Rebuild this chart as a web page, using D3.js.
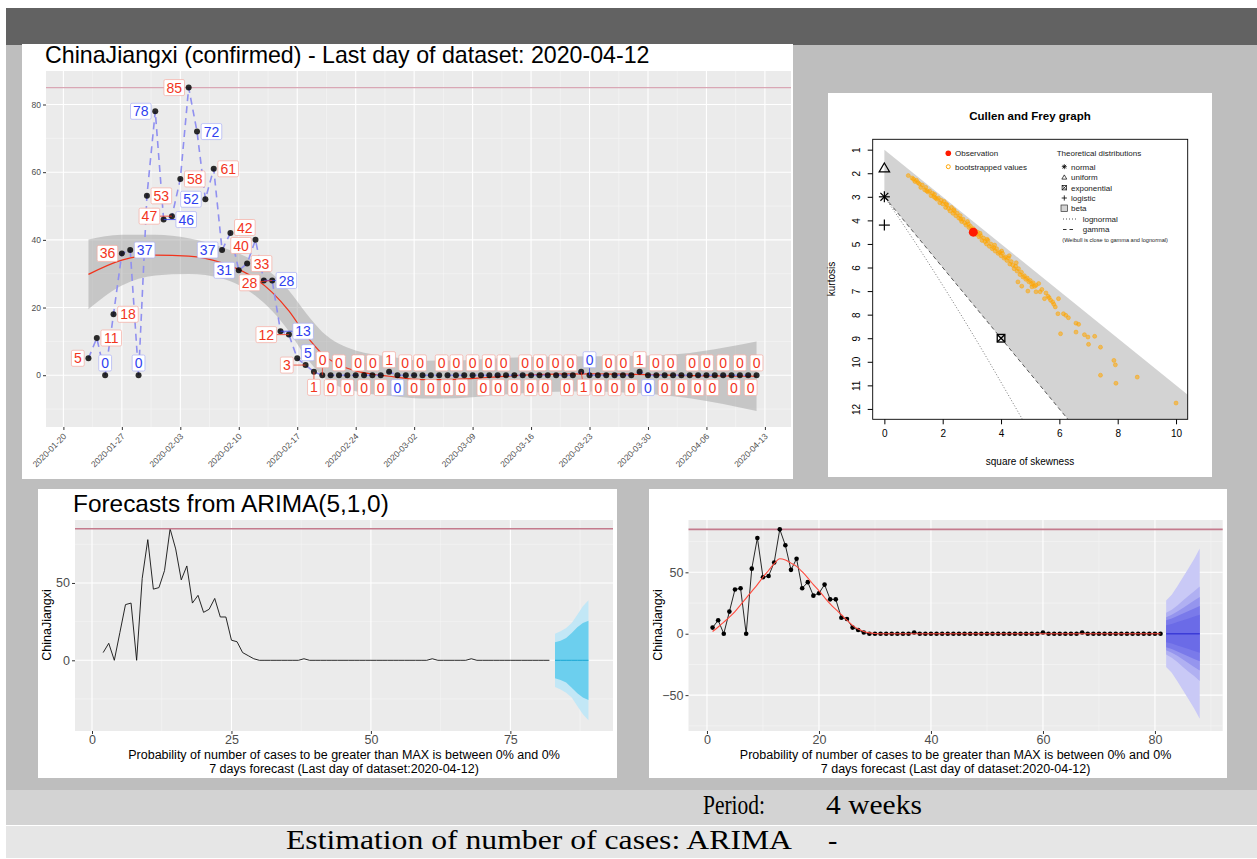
<!DOCTYPE html>
<html>
<head>
<meta charset="utf-8">
<script src="https://cdn.jsdelivr.net/npm/d3@7"></script>
<style>
body { margin: 0; background: #fff; }
svg text { font-family: "Liberation Sans", Arial, sans-serif; }
</style>
</head>
<body>
<svg id="page" width="1257" height="859"></svg>
<script>
// ---- data ----
var regionName = "ChinaJiangxi";
var firstDay = "2020-01-23",
    lastDay = "2020-04-12";

// daily new confirmed cases, 2020-01-23 .. 2020-04-12
var dailyCases = [5,11,0,18,36,37,0,53,78,46,47,58,85,72,52,61,37,42,31,33,40,28,28,13,12,5,3,1,
    0,0,0,0,0,0,0,0,1,
    0,0,0,0,0,0,0,0,0,0,0,0,0,0,0,0,0,0,0,0,0,0,1,
    0,0,0,0,0,0,1,
    0,0,0,0,0,0,0,0,0,0,0,0,0,0];

// labels drawn in blue (1-based day number), the rest are red
var blueLabelDays = [3,6,7,9,10,14,15,17,19,22,24,26,38,61,68];

// loess smooth on the top chart (days after first day)
var smoothDays = [0,4,8,12,16,20,22,24,26,28,30,32,36,40,44,48,52,56,60,64,68,72,76,80];
var smoothFit  = [29.8,34,35.5,35.2,33.2,28.5,24.5,19,12,6.3,3,1.3,-0.3,-1.3,-1.2,-0.6,0,0.3,0.4,0.3,0.1,-0.1,-0.2,-0.3];
var smoothHi   = [40.1,41.5,41.5,40.5,37.8,33.5,30,25,18.5,12.8,9.3,7.3,5.5,4.3,4.4,4.9,5.3,5.5,5.6,5.7,5.9,6.6,8.1,10];
var smoothLo   = [19.5,26.5,29.5,29.9,28.6,23.5,19,13,5.5,-0.2,-3.3,-4.7,-6.1,-6.9,-6.8,-6.1,-5.3,-4.9,-4.8,-5.1,-5.7,-6.8,-8.5,-10.6];

// Cullen and Frey graph
var obsSkew2 = 3.05, obsKurt = 4.5;
var bootSkew2 = [0.82,0.95,1.0,1.05,1.1,1.15,1.2,1.25,1.3,1.38,1.42,1.45,1.5,1.55,1.6,1.65,1.7,1.72,1.75,1.8,1.85,1.9,1.95,2.0,2.05,2.1,2.12,2.15,2.2,2.25,2.3,2.35,2.38,2.4,2.45,2.5,2.55,2.6,2.62,2.65,2.7,2.75,2.8,2.85,2.88,2.9,2.95,3.0,3.05,3.1,3.15,3.2,3.25,3.28,3.3,3.35,3.4,3.45,3.5,3.52,3.55,3.6,3.65,3.7,3.75,3.78,3.8,3.85,3.9,3.95,4.0,4.02,4.05,4.1,4.15,4.2,4.25,4.28,4.3,4.35,4.4,4.45,4.5,4.52,4.55,4.6,4.65,4.7,4.75,4.8,4.85,4.9,4.95,5.0,5.05,5.1,5.15,5.2,
    4.58,4.71,4.92,5.06,5.2,5.29,5.34,5.4,5.49,5.54,5.61,5.65,5.7,5.77,5.81,5.86,5.95,5.97,6.14,6.22,6.31,6.57,6.66,6.57,6.04,6.86,6.98,7.0,7.21,7.41,7.87,7.92,7.41,7.94,8.67,10.0];
var bootKurt = [2.1,2.2,2.25,2.35,2.3,2.4,2.45,2.6,2.5,2.7,2.6,2.75,2.8,2.75,2.95,2.85,3.0,2.9,3.05,3.1,3.05,3.25,3.15,3.3,3.2,3.45,3.3,3.35,3.5,3.6,3.45,3.7,3.55,3.6,3.8,3.7,3.9,3.8,3.95,4.05,3.95,4.1,4.2,4.05,4.15,4.3,4.25,4.4,4.35,4.45,4.6,4.5,4.7,4.55,4.65,4.85,4.75,4.9,5.0,4.8,4.85,5.1,5.0,5.2,5.15,5.05,5.3,5.2,5.4,5.35,5.5,5.3,5.4,5.6,5.55,5.7,5.6,5.5,5.85,5.75,5.9,6.05,5.95,5.8,6.15,6.05,6.3,6.2,6.4,6.35,6.5,6.45,6.6,6.55,6.7,6.65,6.8,6.75,
    6.61,6.79,7.0,6.82,7.03,6.68,7.03,6.93,7.32,7.08,7.22,7.28,7.39,7.46,7.56,7.67,7.96,7.32,7.96,8.03,8.13,8.36,8.41,8.74,8.81,8.85,8.95,9.26,8.92,9.38,9.94,10.13,10.57,10.91,10.65,11.75];
var betaSkew2 = [0, 12, 12, 0],
    betaKurt  = [1, 13, 21, 3];
var lognormSkew2 = [0, 0.961, 2.048, 3.267, 4.624, 6.2],
    lognormKurt  = [3, 4.756, 6.85, 9.32, 12.21, 15.6];
var gammaSkew2 = [0, 8],
    gammaKurt  = [3, 15];
var uniformPt = [0, 1.8], normalPt = [0, 3], logisticPt = [0, 4.2], exponentialPt = [4, 9];

// ARIMA(5,1,0) forecast, 7 steps
var arimaMean = [0,0,0,0,0,0,0];
var arima80 = [11.6,12.7,14.4,17.7,21.3,24.1,25.6];
var arima95 = [17.2,18.8,20.9,24.1,29.5,34.9,38.8];

// fitted curve on the bottom right chart (one value per day)
var curveFit = [1.8,5.5,9.5,13.5,18,23.5,29,34.5,40,46,51.5,57,61,60,57.5,54.8,50.5,45.5,40,35,29.5,24.3,19.8,15.5,11,6.8,3.8,1.8,0.7,0.2,0,
    0,0,0,0,0,0,0,0,0,0,0,0,0,0,0,0,0,0,0,0,0,0,0,0,0,0,0,0,0,0,0,0,0,0,0,0,0,0,0,0,0,0,0,0,0,0,0,0,0,0];
// fan of the bottom right forecast (half widths, outer to inner)
var fanMean = [0,0,0,0,0,0,0];
var fanLevels = [
    [27,31.7,38.6,46,53.4,60.9,69.3],
    [17,19.5,23,27,31,34.5,38.5],
    [13.5,15.5,18,21,24,27,30],
    [11,12.5,14.5,16.5,18.5,20.5,22.5],
    [7,8,9.5,11,12.5,14,15.5]
];
var fanColors = ["#c9c9f6","#b0b0f2","#9595ee","#7a7aea","#6b6be7"];

var periodText = "4 weeks", methodText = "ARIMA";

// ---- page ----
var svg = d3.select("#page");
var parseDay = d3.utcParse("%Y-%m-%d");
var maxCases = d3.max(dailyCases);

svg.append("rect").attr("x",6).attr("y",8).attr("width",1251).attr("height",37).attr("fill","#626262");
svg.append("rect").attr("x",6).attr("y",45).attr("width",1251).attr("height",745).attr("fill","#bebebe");
svg.append("rect").attr("x",6).attr("y",790).attr("width",1251).attr("height",35).attr("fill","#d3d3d3");
svg.append("rect").attr("x",6).attr("y",826).attr("width",1251).attr("height",32).attr("fill","#e6e6e6");

// white boxes of the four images
[[22,44,771,435],[828,93,384,384],[38,489,579,289],[649,489,578,289]].forEach(function(b){
    svg.append("rect").attr("x",b[0]).attr("y",b[1]).attr("width",b[2]).attr("height",b[3]).attr("fill","#fff");
});

function ggPanel(g, x, y, xMaj, xMin, yMaj, yMin){
    var x0 = x.range()[0], x1 = x.range()[1], y0 = y.range()[1], y1 = y.range()[0];
    g.append("rect").attr("x",x0).attr("y",y0).attr("width",x1-x0).attr("height",y1-y0).attr("fill","#ebebeb");
    g.selectAll(null).data(yMin).enter().append("line")
        .attr("x1",x0).attr("x2",x1).attr("y1",function(d){return y(d)}).attr("y2",function(d){return y(d)})
        .attr("stroke","#f6f6f6").attr("stroke-width",0.6);
    g.selectAll(null).data(xMin).enter().append("line")
        .attr("y1",y0).attr("y2",y1).attr("x1",function(d){return x(d)}).attr("x2",function(d){return x(d)})
        .attr("stroke","#f6f6f6").attr("stroke-width",0.6);
    g.selectAll(null).data(yMaj).enter().append("line")
        .attr("x1",x0).attr("x2",x1).attr("y1",function(d){return y(d)}).attr("y2",function(d){return y(d)})
        .attr("stroke","#fff").attr("stroke-width",1.1);
    g.selectAll(null).data(xMaj).enter().append("line")
        .attr("y1",y0).attr("y2",y1).attr("x1",function(d){return x(d)}).attr("x2",function(d){return x(d)})
        .attr("stroke","#fff").attr("stroke-width",1.1);
}

function styleAxis(g, fs){
    g.select(".domain").remove();
    g.selectAll(".tick line").attr("stroke","#333");
    g.selectAll(".tick text").attr("fill","#4d4d4d").attr("font-size",fs);
}

// ---- top left: daily cases with labels ----
var gm = svg.append("g");
var xm = d3.scaleUtc()
    .domain([d3.utcHour.offset(parseDay("2020-01-20"), -50), d3.utcHour.offset(parseDay("2020-04-13"), 75)])
    .range([46, 791]);
var ym = d3.scaleLinear().domain([-15.3, 89.9]).range([427, 71]);
var weekTicks = xm.ticks(d3.utcMonday.every(1));
var weekMinor = weekTicks.map(function(d){return d3.utcHour.offset(d, 84)})
    .filter(function(d){return d < xm.domain()[1]});
ggPanel(gm, xm, ym, weekTicks, weekMinor, [0,20,40,60,80], [-10,10,30,50,70]);

var days = dailyCases.map(function(v, i){ return d3.utcDay.offset(parseDay(firstDay), i); });

gm.append("line").attr("x1",46).attr("x2",791).attr("y1",ym(maxCases)).attr("y2",ym(maxCases))
    .attr("stroke","#d9a7b5").attr("stroke-width",1.4);

var smoothX = function(d, i){ return xm(d3.utcDay.offset(parseDay(firstDay), smoothDays[i])); };
gm.append("path")
    .attr("d", d3.area().x(smoothX).y0(function(d,i){return ym(smoothLo[i])}).y1(function(d,i){return ym(smoothHi[i])})
        .curve(d3.curveMonotoneX)(smoothDays))
    .attr("fill","#999").attr("fill-opacity",0.45);
gm.append("path")
    .attr("d", d3.line().x(smoothX).y(function(d,i){return ym(smoothFit[i])}).curve(d3.curveMonotoneX)(smoothDays))
    .attr("fill","none").attr("stroke","#f2331c").attr("stroke-width",1.2);

gm.append("path")
    .attr("d", d3.line().x(function(d,i){return xm(days[i])}).y(function(d){return ym(d)})(dailyCases))
    .attr("fill","none").attr("stroke","#9090f0").attr("stroke-width",1.6).attr("stroke-dasharray","7,5");

gm.selectAll(null).data(dailyCases).enter().append("circle")
    .attr("cx",function(d,i){return xm(days[i])}).attr("cy",function(d){return ym(d)})
    .attr("r",3).attr("fill","#000").attr("fill-opacity",0.82);

// simple label repel, deterministic: big values start beside their point, zeros above/below
var pts = dailyCases.map(function(v,i){ return {x: xm(days[i]), y: ym(v)}; });
var labs = dailyCases.map(function(v,i){
    var side = i % 2 === 0 ? -1 : 1;
    var w = String(v).length*7.8 + 5;
    var sideways = v > 1;
    return {v: v, blue: blueLabelDays.indexOf(i+1) >= 0, ax: pts[i].x, ay: pts[i].y, w: w, h: 16,
            x: pts[i].x + (sideways ? side*(w/2 + 7) : ((i*7) % 5 - 2) * 3),
            y: pts[i].y + (sideways ? -3 : side*15)};
});
(function repel(){
    var L = 46, R = 791, T = 71, B = 427;
    for (var it = 0; it < 500; it++){
        labs.forEach(function(a){ a.fx = 0; a.fy = 0; });
        for (var i = 0; i < labs.length; i++){
            var a = labs[i];
            for (var j = i+1; j < labs.length; j++){
                var b = labs[j];
                var ox = (a.w + b.w)/2 + 2 - Math.abs(a.x - b.x),
                    oy = (a.h + b.h)/2 + 2 - Math.abs(a.y - b.y);
                if (ox > 0 && oy > 0){
                    if (ox < oy){
                        var sx = a.x === b.x ? -1 : (a.x < b.x ? -1 : 1);
                        a.fx += sx*ox*0.5; b.fx -= sx*ox*0.5;
                    } else {
                        var sy = a.y === b.y ? (i % 2 ? 1 : -1) : (a.y < b.y ? -1 : 1);
                        a.fy += sy*oy*0.5; b.fy -= sy*oy*0.5;
                    }
                }
            }
            pts.forEach(function(p){
                var ox = a.w/2 + 4.5 - Math.abs(a.x - p.x),
                    oy = a.h/2 + 4.5 - Math.abs(a.y - p.y);
                if (ox > 0 && oy > 0){
                    if (ox < oy) a.fx += (a.x < p.x ? -1 : 1)*ox*0.6;
                    else a.fy += (a.y < p.y ? -1 : 1)*oy*0.6;
                }
            });
            a.fx += (a.ax - a.x)*0.015;
            a.fy += (a.ay - a.y)*0.015;
        }
        labs.forEach(function(a){
            a.x = Math.max(L + a.w/2, Math.min(R - a.w/2, a.x + a.fx));
            a.y = Math.max(T + a.h/2, Math.min(B - a.h/2, a.y + a.fy));
        });
    }
})();

labs.forEach(function(a){
    var col = a.blue ? "#2f3ff0" : "#f2351d";
    var dx = a.x - a.ax, dy = a.y - a.ay;
    var s = Math.min(dx ? (a.w/2)/Math.abs(dx) : Infinity, dy ? (a.h/2)/Math.abs(dy) : Infinity, 1);
    var ex = a.x - dx*s, ey = a.y - dy*s;
    if (Math.hypot(ex - a.ax, ey - a.ay) > 6){
        gm.append("line").attr("x1",a.ax).attr("y1",a.ay).attr("x2",ex).attr("y2",ey)
            .attr("stroke",col).attr("stroke-width",0.8);
    }
});
var lab = gm.selectAll("g.lab").data(labs).enter().append("g").attr("class","lab")
    .attr("transform",function(a){return "translate(" + a.x + "," + a.y + ")"});
lab.append("rect").attr("x",function(a){return -a.w/2}).attr("y",function(a){return -a.h/2})
    .attr("width",function(a){return a.w}).attr("height",function(a){return a.h}).attr("rx",1.5)
    .attr("fill","#fff").attr("stroke",function(a){return a.blue ? "#aab0f5" : "#f5aaa0"}).attr("stroke-width",0.7);
lab.append("text").attr("text-anchor","middle").attr("dy","0.36em").attr("font-size",14)
    .attr("fill",function(a){return a.blue ? "#2f3ff0" : "#f2351d"})
    .text(function(a){return a.v});

gm.append("g").attr("transform","translate(46,0)")
    .call(d3.axisLeft(ym).tickValues([0,20,40,60,80]).tickSize(3).tickPadding(2))
    .call(function(g){ styleAxis(g, 8.5); });
gm.append("g").attr("transform","translate(0,427)")
    .call(d3.axisBottom(xm).tickValues(weekTicks).tickFormat(d3.utcFormat("%Y-%m-%d")).tickSize(3))
    .call(function(g){
        styleAxis(g, 8.5);
        g.selectAll(".tick text").attr("y",0).attr("dy",0).attr("text-anchor","end")
            .attr("transform","translate(3,10) rotate(-45)");
    });
gm.append("text").attr("x",45).attr("y",63).attr("font-size",23.2).attr("fill","#000")
    .text(regionName + " (confirmed) - Last day of dataset: " + lastDay);

// ---- top right: Cullen and Frey graph ----
var gc = svg.append("g");
var xc = d3.scaleLinear().domain([-0.4, 10.4]).range([872.7, 1187.7]);
var yc = d3.scaleLinear().domain([0.56, 12.44]).range([139.3, 419.3]);
svg.append("clipPath").attr("id","cfclip").append("rect")
    .attr("x",872.7).attr("y",139.3).attr("width",315).attr("height",280);
var gcc = gc.append("g").attr("clip-path","url(#cfclip)");
var cfLine = function(xs, ys){ return d3.line()(xs.map(function(s,i){return [xc(s), yc(ys[i])]})); };
gcc.append("path").attr("d", cfLine(betaSkew2, betaKurt) + "Z").attr("fill","#d3d3d3");
gcc.append("path").attr("d", d3.line().curve(d3.curveMonotoneX)(lognormSkew2.map(function(s,i){return [xc(s), yc(lognormKurt[i])]})))
    .attr("fill","none").attr("stroke","#555").attr("stroke-width",0.8).attr("stroke-dasharray","1,2");
gcc.append("path").attr("d", cfLine(gammaSkew2, gammaKurt))
    .attr("fill","none").attr("stroke","#333").attr("stroke-width",0.8).attr("stroke-dasharray","4,3");
gcc.selectAll(null).data(bootSkew2).enter().append("circle")
    .attr("cx",function(d){return xc(d)}).attr("cy",function(d,i){return yc(bootKurt[i])}).attr("r",2)
    .attr("fill","#ffa500").attr("fill-opacity",0.55).attr("stroke","#ffa500").attr("stroke-opacity",0.8).attr("stroke-width",0.6);
gcc.append("circle").attr("cx",xc(obsSkew2)).attr("cy",yc(obsKurt)).attr("r",4.5).attr("fill","#ff1a00");

function asterisk(g, cx, cy, r, w){
    [[r,0],[0,r],[r*0.72,r*0.72],[r*0.72,-r*0.72]].forEach(function(v){
        g.append("line").attr("x1",cx-v[0]).attr("y1",cy-v[1]).attr("x2",cx+v[0]).attr("y2",cy+v[1])
            .attr("stroke","#000").attr("stroke-width",w);
    });
}
function plus(g, cx, cy, r, w){
    [[r,0],[0,r]].forEach(function(v){
        g.append("line").attr("x1",cx-v[0]).attr("y1",cy-v[1]).attr("x2",cx+v[0]).attr("y2",cy+v[1])
            .attr("stroke","#000").attr("stroke-width",w);
    });
}
function triangle(g, cx, cy, r, w){
    g.append("path").attr("d","M" + cx + "," + (cy - r) + "L" + (cx + r*0.95) + "," + (cy + r*0.62) + "L" + (cx - r*0.95) + "," + (cy + r*0.62) + "Z")
        .attr("fill","none").attr("stroke","#000").attr("stroke-width",w);
}
function boxX(g, cx, cy, r, w){
    g.append("rect").attr("x",cx-r).attr("y",cy-r).attr("width",2*r).attr("height",2*r)
        .attr("fill","none").attr("stroke","#000").attr("stroke-width",w);
    g.append("path").attr("d","M" + (cx-r) + "," + (cy-r) + "L" + (cx+r) + "," + (cy+r) + "M" + (cx+r) + "," + (cy-r) + "L" + (cx-r) + "," + (cy+r))
        .attr("stroke","#000").attr("stroke-width",w);
}
triangle(gc, xc(uniformPt[0]), yc(uniformPt[1]), 5.5, 1.2);
asterisk(gc, xc(normalPt[0]), yc(normalPt[1]), 5.5, 1.2);
plus(gc, xc(logisticPt[0]), yc(logisticPt[1]), 5.5, 1.2);
boxX(gc, xc(exponentialPt[0]), yc(exponentialPt[1]), 3.8, 1.3);

gc.append("rect").attr("x",872.7).attr("y",139.3).attr("width",315).attr("height",280)
    .attr("fill","none").attr("stroke","#000").attr("stroke-width",0.9);
gc.append("g").attr("transform","translate(0,419.3)")
    .call(d3.axisBottom(xc).tickValues([0,2,4,6,8,10]).tickSize(5).tickSizeOuter(0).tickPadding(6))
    .call(function(g){
        g.select(".domain").remove();
        g.selectAll(".tick line").attr("stroke","#000");
        g.selectAll(".tick text").attr("fill","#000").attr("font-size",10);
    });
gc.append("g").attr("transform","translate(872.7,0)")
    .call(d3.axisLeft(yc).tickValues(d3.range(1,13)).tickSize(5).tickSizeOuter(0))
    .call(function(g){
        g.select(".domain").remove();
        g.selectAll(".tick line").attr("stroke","#000");
        g.selectAll(".tick text").attr("fill","#000").attr("font-size",10).attr("x",0).attr("dy","0.36em")
            .attr("text-anchor","middle").attr("transform","translate(-16,0) rotate(-90)");
    });
gc.append("text").attr("x",1030).attr("y",120).attr("text-anchor","middle").attr("font-size",11.5)
    .attr("font-weight","bold").text("Cullen and Frey graph");
gc.append("text").attr("x",1030).attr("y",465).attr("text-anchor","middle").attr("font-size",10)
    .text("square of skewness");
gc.append("text").attr("transform","translate(835,279) rotate(-90)").attr("text-anchor","middle").attr("font-size",10)
    .text("kurtosis");

// legend
var lg = gc.append("g").attr("font-size",8).attr("fill","#222");
lg.append("circle").attr("cx",948.3).attr("cy",153.3).attr("r",2.8).attr("fill","#ff1a00");
lg.append("circle").attr("cx",948.3).attr("cy",166.7).attr("r",2).attr("fill","none").attr("stroke","#ffa500").attr("stroke-width",1);
lg.append("text").attr("x",955).attr("y",156).attr("font-size",8).text("Observation");
lg.append("text").attr("x",955).attr("y",169.5).attr("font-size",8).text("bootstrapped values");
lg.append("text").attr("x",1056.7).attr("y",156).attr("font-size",8).text("Theoretical distributions");
asterisk(lg, 1064.3, 166.7, 2.5, 0.8);
triangle(lg, 1064.3, 177.5, 2.6, 0.7);
boxX(lg, 1064.3, 187.7, 2.2, 0.7);
plus(lg, 1064.3, 198, 2.6, 0.8);
lg.append("rect").attr("x",1061).attr("y",205).attr("width",6.5).attr("height",6.5).attr("fill","#d3d3d3").attr("stroke","#333").attr("stroke-width",0.7);
lg.append("line").attr("x1",1063).attr("x2",1076).attr("y1",219).attr("y2",219).attr("stroke","#555").attr("stroke-dasharray","1,2");
lg.append("line").attr("x1",1063).attr("x2",1076).attr("y1",229.5).attr("y2",229.5).attr("stroke","#333").attr("stroke-dasharray","3.5,3");
[["normal",169.5],["uniform",180],["exponential",190.5],["logistic",201],["beta",211]].forEach(function(t){
    lg.append("text").attr("x",1071).attr("y",t[1]).attr("font-size",8).text(t[0]);
});
lg.append("text").attr("x",1082.7).attr("y",221.8).attr("font-size",8).text("lognormal");
lg.append("text").attr("x",1082.7).attr("y",232.3).attr("font-size",8).text("gamma");
lg.append("text").attr("x",1062.3).attr("y",241.5).attr("font-size",5.6).text("(Weibull is close to gamma and lognormal)");

// ---- bottom left: forecasts from ARIMA(5,1,0) ----
var ga = svg.append("g");
var xa = d3.scaleLinear().domain([-3.05, 93.4]).range([75, 613]);
var ya = d3.scaleLinear().domain([-45.7, 90.7]).range([731, 520]);
ggPanel(ga, xa, ya, [0,25,50,75], [12.5,37.5,62.5,87.5], [0,50], [-25,25,75]);
var nObs = dailyCases.length;
var aStepX = function(d,i){ return xa(nObs + 2 + i); };
ga.append("path").attr("d", d3.area().x(aStepX).y0(function(d,i){return ya(arimaMean[i]-arima95[i])}).y1(function(d,i){return ya(arimaMean[i]+arima95[i])})(arimaMean))
    .attr("fill","#c2e7f6");
ga.append("path").attr("d", d3.area().x(aStepX).y0(function(d,i){return ya(arimaMean[i]-arima80[i])}).y1(function(d,i){return ya(arimaMean[i]+arima80[i])})(arimaMean))
    .attr("fill","#6ccfee");
ga.append("path").attr("d", d3.line().x(aStepX).y(function(d){return ya(d)})(arimaMean))
    .attr("fill","none").attr("stroke","#1aa6d2").attr("stroke-width",1);
ga.append("path").attr("d", d3.line().x(function(d,i){return xa(i+2)}).y(function(d){return ya(d)})(dailyCases))
    .attr("fill","none").attr("stroke","#111").attr("stroke-width",0.9);
ga.append("line").attr("x1",75).attr("x2",613).attr("y1",ya(maxCases)).attr("y2",ya(maxCases))
    .attr("stroke","#c47b8d").attr("stroke-width",1.6);
ga.append("g").attr("transform","translate(75,0)")
    .call(d3.axisLeft(ya).tickValues([0,50]).tickSize(3).tickPadding(2)).call(function(g){ styleAxis(g, 12.5); });
ga.append("g").attr("transform","translate(0,731)")
    .call(d3.axisBottom(xa).tickValues([0,25,50,75]).tickSize(3).tickPadding(1)).call(function(g){ styleAxis(g, 12.5); });
ga.append("text").attr("x",73).attr("y",512).attr("font-size",24.4).text("Forecasts from ARIMA(5,1,0)");
ga.append("text").attr("transform","translate(51,625) rotate(-90)").attr("text-anchor","middle").attr("font-size",12.5)
    .text(regionName);
ga.append("text").attr("x",344).attr("y",759).attr("text-anchor","middle").attr("font-size",12.5)
    .text("Probability of number of cases to be greater than MAX is between 0% and 0%");
ga.append("text").attr("x",344).attr("y",772.5).attr("text-anchor","middle").attr("font-size",12.5)
    .text("7 days forecast (Last day of dataset:" + lastDay + ")");

// ---- bottom right: fitted curve and fan forecast ----
var gr = svg.append("g");
var xr = d3.scaleLinear().domain([-3.3, 92.1]).range([688.5, 1222.7]);
var yr = d3.scaleLinear().domain([-79.2, 92.6]).range([731, 520]);
ggPanel(gr, xr, yr, [0,20,40,60,80], [10,30,50,70,90], [-50,0,50], [-75,-25,25,75]);
var rStepX = function(d,i){ return xr(nObs + 1 + i); };
fanLevels.forEach(function(hw, k){
    gr.append("path").attr("d", d3.area().x(rStepX).y0(function(d,i){return yr(fanMean[i]-hw[i])}).y1(function(d,i){return yr(fanMean[i]+hw[i])})(fanMean))
        .attr("fill", fanColors[k]);
});
gr.append("path").attr("d", d3.line().x(rStepX).y(function(d){return yr(d)})(fanMean))
    .attr("fill","none").attr("stroke","#3b3bd8").attr("stroke-width",1.3);
gr.append("line").attr("x1",688.5).attr("x2",1222.7).attr("y1",yr(maxCases)).attr("y2",yr(maxCases))
    .attr("stroke","#c47b8d").attr("stroke-width",1.6);
gr.append("path").attr("d", d3.line().x(function(d,i){return xr(i+1)}).y(function(d){return yr(d)})(dailyCases))
    .attr("fill","none").attr("stroke","#111").attr("stroke-width",0.9);
gr.selectAll(null).data(dailyCases).enter().append("circle")
    .attr("cx",function(d,i){return xr(i+1)}).attr("cy",function(d){return yr(d)}).attr("r",2.3).attr("fill","#000");
gr.append("path").attr("d", d3.line().x(function(d,i){return xr(i+1)}).y(function(d){return yr(d)}).curve(d3.curveMonotoneX)(curveFit))
    .attr("fill","none").attr("stroke","#ff4a3d").attr("stroke-width",1.1);
gr.append("g").attr("transform","translate(688.5,0)")
    .call(d3.axisLeft(yr).tickValues([-50,0,50]).tickSize(3).tickPadding(2)).call(function(g){ styleAxis(g, 12.5); });
gr.append("g").attr("transform","translate(0,731)")
    .call(d3.axisBottom(xr).tickValues([0,20,40,60,80]).tickSize(3).tickPadding(1)).call(function(g){ styleAxis(g, 12.5); });
gr.append("text").attr("transform","translate(662,625) rotate(-90)").attr("text-anchor","middle").attr("font-size",12.5)
    .text(regionName);
gr.append("text").attr("x",955.6).attr("y",759).attr("text-anchor","middle").attr("font-size",12.5)
    .text("Probability of number of cases to be greater than MAX is between 0% and 0%");
gr.append("text").attr("x",955.6).attr("y",772.5).attr("text-anchor","middle").attr("font-size",12.5)
    .text("7 days forecast (Last day of dataset:" + lastDay + ")");

// ---- bottom table rows ----
var serif = "'Liberation Serif', 'DejaVu Serif', serif";
svg.append("text").attr("x",703).attr("y",814).attr("font-size",28)
    .style("font-family",serif).attr("textLength",62).attr("lengthAdjust","spacingAndGlyphs").text("Period:");
svg.append("text").attr("x",826).attr("y",814).attr("font-size",28)
    .style("font-family",serif).attr("textLength",96).attr("lengthAdjust","spacingAndGlyphs").text(periodText);
svg.append("text").attr("x",286).attr("y",849).attr("font-size",28)
    .style("font-family",serif).attr("textLength",506).attr("lengthAdjust","spacingAndGlyphs")
    .text("Estimation of number of cases: " + methodText);
svg.append("text").attr("x",828).attr("y",849).attr("font-size",28)
    .style("font-family",serif).text("-");
</script>
</body>
</html>
